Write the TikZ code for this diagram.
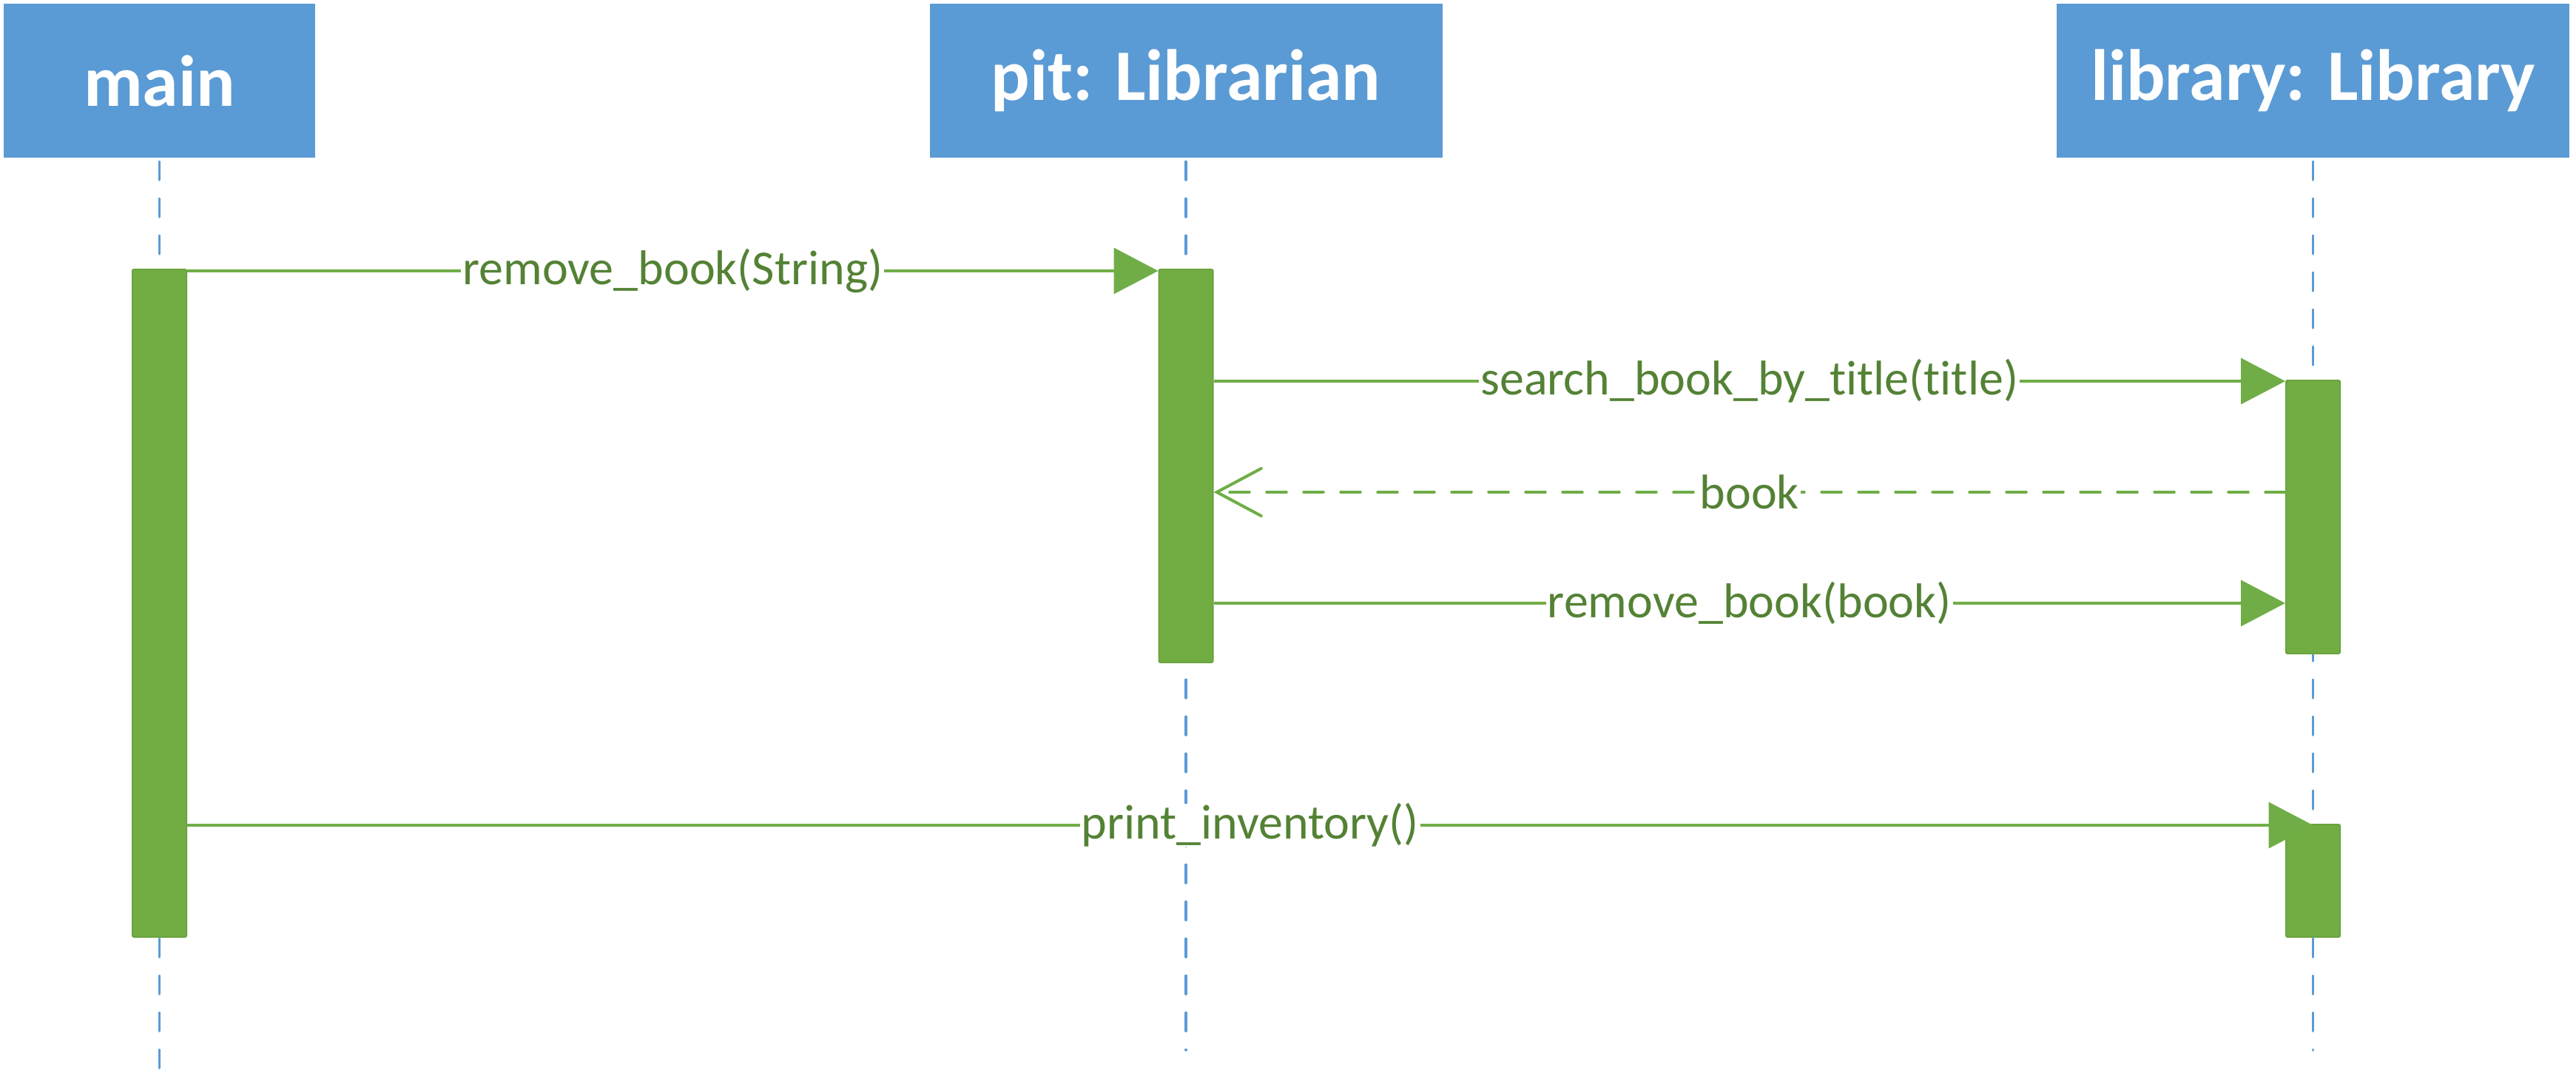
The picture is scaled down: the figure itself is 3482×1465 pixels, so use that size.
\documentclass[tikz,border=0pt]{standalone}
\usepackage{fontspec}
\setmainfont{Carlito}[Ligatures={NoCommon}]
\usetikzlibrary{arrows.meta}
\definecolor{boxblue}{HTML}{5B9BD5}
\definecolor{actgreen}{HTML}{72AD44}
\definecolor{actborder}{HTML}{6AA33E}
\definecolor{linegreen}{HTML}{70AD47}
\definecolor{textgreen}{HTML}{548235}
\tikzset{
  actor/.style={fill=boxblue, draw=none, inner sep=0pt, minimum width=#1, minimum height=208pt,
    text=white, font=\bfseries\fontsize{98}{118}\selectfont},
  activation/.style={fill=actgreen, draw=actborder, line width=2pt, rounded corners=2pt,
    inner sep=0pt, minimum width=73pt, minimum height=#1},
  lifeline/.style={draw=boxblue, line width=3.2pt, line cap=round, dash pattern=on 25pt off 25pt},
  msg/.style={draw=linegreen, line width=3.5pt, -{Triangle[length=60pt,width=62pt]}},
  reply/.style={draw=linegreen, line width=3.5pt, line cap=round, dash pattern=on 27pt off 23pt,
    -{Straight Barb[length=60pt,width=64pt,line cap=round,line width=4pt]}},
  lbl/.style={fill=white, text=textgreen, font=\fontsize{66}{79}\selectfont, inner xsep=2pt, inner ysep=0pt}
}
\begin{document}
\begin{tikzpicture}[x=1pt,y=-1pt]
\useasboundingbox (0,0) rectangle (3482,1465);
% actors
\node[actor=421pt] (main) at (215.5,109) {main};
\node[actor=693pt] (pit) at (1603,109) {pit: Librarian};
\node[actor=693pt] (lib) at (3126.5,109) {library: Library};
% lifeline ends
\coordinate (mainend) at (215.5,1445);
\coordinate (pitend) at (1603,1419);
\coordinate (libend) at (3126.5,1419);
% lifelines
\draw[lifeline, shorten <=5pt] (main.south) -- (mainend);
\draw[lifeline, shorten <=5pt] (pit.south) -- (pitend);
\draw[lifeline, shorten <=5pt] (lib.south) -- (libend);
% activations
\node[activation=902pt] (actmain) at (215.5,815) {};
\node[activation=531pt] (actpit) at (1603,629.5) {};
\node[activation=369pt] (actlib1) at (3126.5,698.5) {};
\node[activation=152pt] (actlib2) at (3126.5,1190) {};
% messages
\draw[msg] (actmain.east |- 0,366) -- (actpit.west |- 0,366)
  node[lbl, midway] {remove\_book(String)};
\draw[msg] (actpit.east |- 0,515) -- (actlib1.west |- 0,515)
  node[lbl, midway] {search\_book\_by\_title(title)};
\draw[reply] (actlib1.west |- 0,665) -- (actpit.east |- 0,665)
  node[lbl, midway] {book};
\draw[msg] (actpit.east |- 0,815) -- (actlib1.west |- 0,815)
  node[lbl, midway] {remove\_book(book)};
\draw[msg] (actmain.east |- 0,1115) -- (actlib2.center |- 0,1115)
  node[lbl, pos=0.5] {print\_inventory()};
\end{tikzpicture}
\end{document}
